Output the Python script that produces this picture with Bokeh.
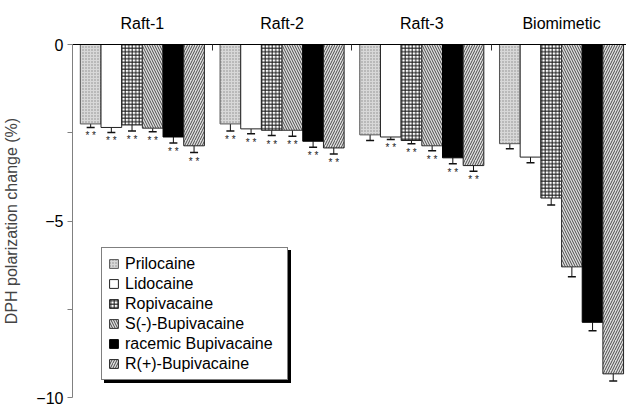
from bokeh.plotting import figure
from bokeh.models import (ColumnDataSource, Range1d, FixedTicker, LinearAxis,
                          Whisker, TeeHead, Legend, LegendItem)
from bokeh.core.properties import value
from bokeh.embed import file_html
from bokeh.resources import INLINE

groups = ["Raft-1", "Raft-2", "Raft-3", "Biomimetic"]
drugs = ["Prilocaine", "Lidocaine", "Ropivacaine", "S(-)-Bupivacaine",
         "racemic Bupivacaine", "R(+)-Bupivacaine"]

# values per drug across the four membranes (%)
prilocaine = [-2.25, -2.25, -2.56, -2.81]
lidocaine = [-2.35, -2.39, -2.62, -3.19]
ropivacaine = [-2.28, -2.43, -2.72, -4.35]
s_bupi = [-2.37, -2.43, -2.87, -6.30]
rac_bupi = [-2.62, -2.74, -3.21, -7.87]
r_bupi = [-2.87, -2.93, -3.43, -9.33]

prilocaine_err = [0.10, 0.20, 0.16, 0.14]
lidocaine_err = [0.14, 0.14, 0.07, 0.16]
ropivacaine_err = [0.17, 0.15, 0.09, 0.20]
s_bupi_err = [0.10, 0.17, 0.14, 0.28]
rac_bupi_err = [0.17, 0.17, 0.17, 0.24]
r_bupi_err = [0.19, 0.17, 0.16, 0.20]

# significance marks (** shown)
prilocaine_sig = [1, 1, 0, 0]
lidocaine_sig = [1, 1, 1, 0]
ropivacaine_sig = [1, 1, 1, 0]
s_bupi_sig = [1, 1, 1, 0]
rac_bupi_sig = [1, 1, 1, 0]
r_bupi_sig = [1, 1, 1, 0]

y_ticks = [0, -5, -10]
y_minor = [-2.5, -7.5]

series = [prilocaine, lidocaine, ropivacaine, s_bupi, rac_bupi, r_bupi]
errors = [prilocaine_err, lidocaine_err, ropivacaine_err, s_bupi_err, rac_bupi_err, r_bupi_err]
sigs = [prilocaine_sig, lidocaine_sig, ropivacaine_sig, s_bupi_sig, rac_bupi_sig, r_bupi_sig]

styles = [
    dict(fill_color="#d8d8d8", hatch_pattern=".", hatch_color="#888888", hatch_scale=3, hatch_weight=1, line_color="#555555"),
    dict(fill_color="#ffffff", hatch_pattern=None, line_color="#222222"),
    dict(fill_color="#ffffff", hatch_pattern="+", hatch_color="#1a1a1a", hatch_scale=3.5, hatch_weight=1, line_color="#222222"),
    dict(fill_color="#e0e0e0", hatch_pattern="\\", hatch_color="#4a4a4a", hatch_scale=5, hatch_weight=1, line_color="#333333"),
    dict(fill_color="#000000", hatch_pattern=None, line_color="#000000"),
    dict(fill_color="#e0e0e0", hatch_pattern="/", hatch_color="#4a4a4a", hatch_scale=5, hatch_weight=1, line_color="#222222"),
]

FONT = "Liberation Sans"
bar_w = 0.148

p = figure(width=626, height=408, output_backend="svg", toolbar_location=None,
           x_range=Range1d(-0.5, 3.465), y_range=Range1d(-10, 0),
           x_axis_location=None, y_axis_location=None,
           min_border_left=63, min_border_right=0, min_border_top=44, min_border_bottom=11)
p.outline_line_color = None
p.xgrid.visible = False
p.ygrid.visible = False

renderers = []
for j, (vals, errs, sg, st) in enumerate(zip(series, errors, sigs, styles)):
    xs = [i + (j - 2.5) * bar_w for i in range(len(groups))]
    low = [v - e for v, e in zip(vals, errs)]
    src = ColumnDataSource(dict(x=xs, top=vals, low=low,
                                mark=["* *" if s else "" for s in sg]))
    kw = dict(st)
    hp = kw.pop("hatch_pattern")
    if hp is not None:
        r = p.vbar(x="x", top="top", bottom=0, width=bar_w, source=src, line_width=1,
                   hatch_pattern=hp, **kw)
    else:
        r = p.vbar(x="x", top="top", bottom=0, width=bar_w, source=src, line_width=1, **kw)
    renderers.append(r)
    wh = Whisker(base="x", lower="low", upper="top", source=src, dimension="height",
                 line_color="#111111", line_width=1,
                 lower_head=TeeHead(size=8, line_color="#111111", line_width=1.5),
                 upper_head=None)
    p.add_layout(wh)
    p.text(x="x", y="low", text="mark", source=src, text_align="center",
           text_baseline="top", y_offset=3, text_font_size="10px",
           text_color="#222222", text_font=value(FONT))

# top axis with group labels
xa = LinearAxis(ticker=FixedTicker(ticks=[0, 1, 2, 3], minor_ticks=[0.5, 1.5, 2.5]),
                major_label_overrides={i: g for i, g in enumerate(groups)})
xa.major_tick_in = 0
xa.major_tick_out = 0
xa.minor_tick_in = 6
xa.minor_tick_out = 0
xa.axis_line_color = "#000000"
xa.minor_tick_line_color = "#333333"
xa.major_label_standoff = 13
xa.major_label_text_font = FONT
xa.major_label_text_font_size = "16px"
xa.major_label_text_color = "#000000"
p.add_layout(xa, "above")

ya = LinearAxis(ticker=FixedTicker(ticks=y_ticks, minor_ticks=y_minor),
                axis_label="DPH polarization change (%)")
ya.major_tick_in = 0
ya.major_tick_out = 5
ya.minor_tick_in = 0
ya.minor_tick_out = 5
ya.axis_line_color = "#808080"
ya.major_tick_line_color = "#808080"
ya.minor_tick_line_color = "#808080"
ya.major_label_text_font = FONT
ya.major_label_text_font_size = "16px"
ya.major_label_text_color = "#000000"
ya.major_label_standoff = 4
ya.axis_label_text_font = FONT
ya.axis_label_text_font_size = "16px"
ya.axis_label_text_font_style = "normal"
ya.axis_label_standoff = 13
p.add_layout(ya, "left")

def make_legend(loc, shadow):
    if shadow:
        its = [LegendItem(label=" ", renderers=[r]) for r in renderers]
    else:
        its = [LegendItem(label=d, renderers=[r]) for d, r in zip(drugs, renderers)]
    lg = Legend(items=its, location=loc, orientation="vertical")
    lg.glyph_width = 11
    lg.glyph_height = 11
    lg.label_height = 19
    lg.spacing = 1
    lg.padding = 6
    lg.margin = 0
    lg.label_standoff = 6
    lg.label_width = 156
    lg.label_text_font = FONT
    lg.label_text_font_size = "16px"
    lg.label_text_color = "#000000"
    lg.border_line_color = "#000000"
    lg.border_line_width = 1
    lg.background_fill_color = "#000000" if shadow else "#ffffff"
    lg.background_fill_alpha = 1.0
    return lg

p.add_layout(make_legend((32, 14), True), "center")
p.add_layout(make_legend((29, 17), False), "center")

open("out.html", "w").write(file_html(p, INLINE))
